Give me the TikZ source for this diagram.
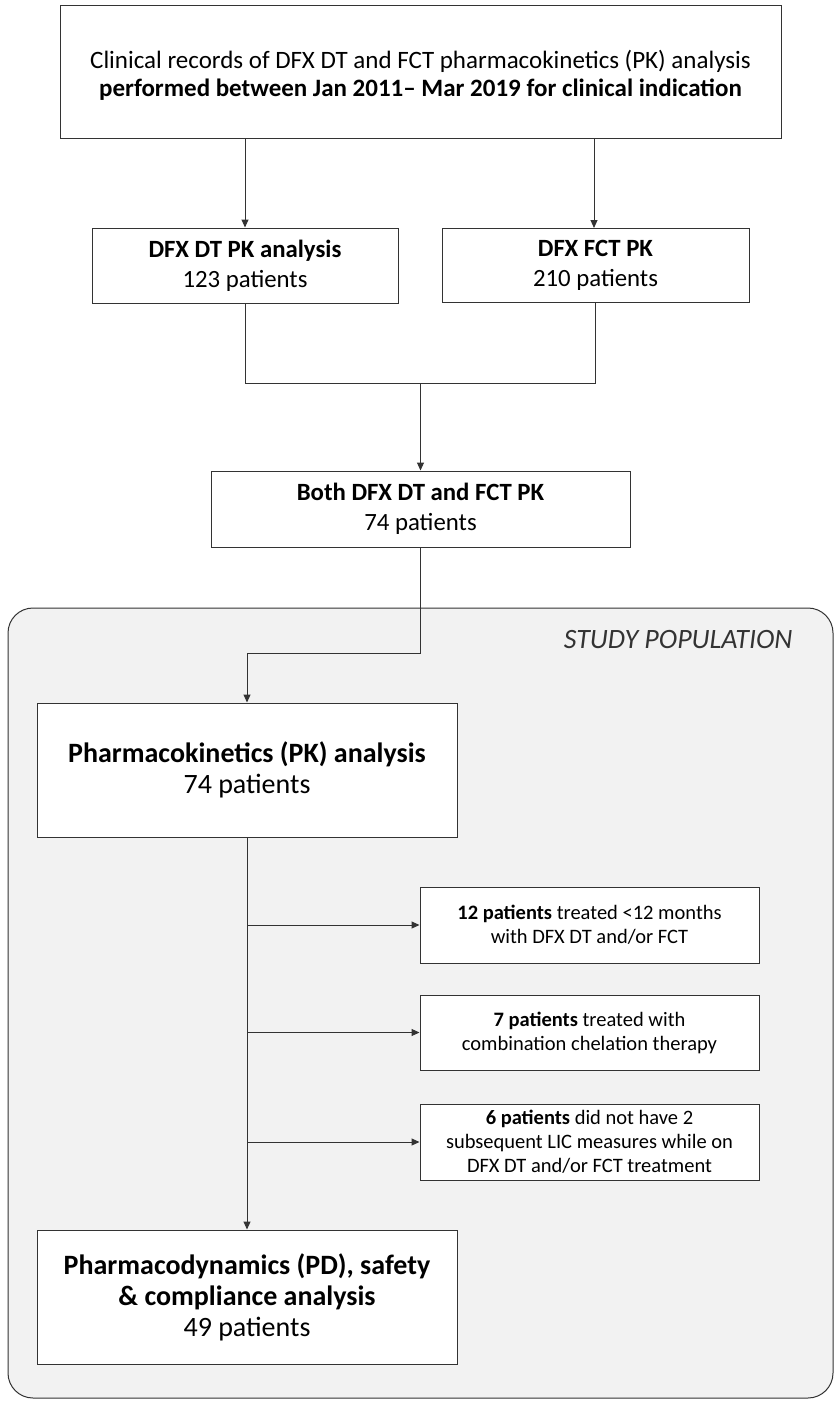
\documentclass[tikz,border=0pt]{standalone}
\usepackage{fontspec}
\setmainfont{Carlito}
\usetikzlibrary{arrows.meta}
\definecolor{ln}{HTML}{333333}
\definecolor{pop}{HTML}{F2F2F2}
\begin{document}
\begin{tikzpicture}[x=1pt,y=-1pt,
  box/.style={draw=ln,line width=1pt,fill=white,inner sep=0pt,align=center,text=black},
  conn/.style={draw=ln,line width=1pt},
  arr/.style={conn,-{Triangle[length=8pt,width=7pt]}},
  bigfont/.style={font=\fontsize{25}{28}\selectfont},
  midfont/.style={font=\fontsize{24.8}{30}\selectfont},
  lgfont/.style={font=\fontsize{28}{31}\selectfont},
  smfont/.style={font=\fontsize{20.5}{24}\selectfont}]
\useasboundingbox (0,0) rectangle (838,1407);
\fill[white] (0,0) rectangle (838,1407);
\node[draw=ln,line width=1pt,fill=pop,rounded corners=25pt,minimum width=825pt,minimum height=790pt,inner sep=0pt] (pop) at (420.5,1003) {};
\node[anchor=east,font=\fontsize{28}{30}\selectfont\itshape,text=ln] (poplabel) at (796,640) {STUDY POPULATION};
\node[box,minimum width=721pt,minimum height=133pt] (top) at (420.5,72.5) {};
\node[bigfont,align=center,inner sep=0pt] (toptext) at (420.5,75.5) {Clinical records of DFX DT and FCT pharmacokinetics (PK) analysis\\\textbf{performed between Jan 2011-- Mar 2019 for clinical indication}};
\node[box,minimum width=306pt,minimum height=75pt,midfont] (dt) at (245,265.5) {\textbf{DFX DT PK analysis}\\123 patients};
\node[box,minimum width=307pt,minimum height=74pt,midfont] (fct) at (595.5,265) {\textbf{DFX FCT PK}\\210 patients};
\node[box,minimum width=419pt,minimum height=76pt,midfont] (both) at (420.5,509) {\textbf{Both DFX DT and FCT PK}\\74 patients};
\node[box,minimum width=420pt,minimum height=134pt,lgfont] (pk) at (247,770) {\textbf{Pharmacokinetics (PK) analysis}\\74 patients};
\node[box,minimum width=420pt,minimum height=134pt,lgfont] (pd) at (247,1297) {\textbf{Pharmacodynamics (PD), safety}\\\textbf{\& compliance analysis}\\49 patients};
\node[box,minimum width=339pt,minimum height=76pt,smfont] (ex1) at (589.5,925) {\textbf{12 patients} treated <12 months\\with DFX DT and/or FCT};
\node[box,minimum width=339pt,minimum height=75pt,smfont] (ex2) at (589.5,1032.5) {\textbf{7 patients} treated with\\combination chelation therapy};
\node[box,minimum width=339pt,minimum height=76pt,smfont] (ex3) at (589.5,1142) {\textbf{6 patients} did not have 2\\subsequent LIC measures while on\\DFX DT and/or FCT treatment};
\coordinate (mergeL) at (dt.south |- 0,383);
\coordinate (mergeR) at (fct.south |- 0,383);
\coordinate (mergeM) at (both.north |- 0,383);
\coordinate (bend) at (both.south |- 0,653);
\coordinate (bendL) at (pk.north |- 0,653);
\coordinate (b1) at (pk.south |- ex1.west);
\coordinate (b2) at (pk.south |- ex2.west);
\coordinate (b3) at (pk.south |- ex3.west);
\coordinate (fctin) at (594,228);
\draw[arr] (top.south -| dt.north) -- (dt.north);
\draw[arr] (top.south -| fctin) -- (fctin);
\draw[conn] (dt.south) -- (mergeL) -- (mergeR) -- (fct.south);
\draw[arr] (mergeM) -- (both.north);
\draw[arr] (both.south) -- (bend) -- (bendL) -- (pk.north);
\draw[arr] (pk.south) -- (pd.north);
\draw[arr] (b1) -- (ex1.west);
\draw[arr] (b2) -- (ex2.west);
\draw[arr] (b3) -- (ex3.west);
\end{tikzpicture}
\end{document}
